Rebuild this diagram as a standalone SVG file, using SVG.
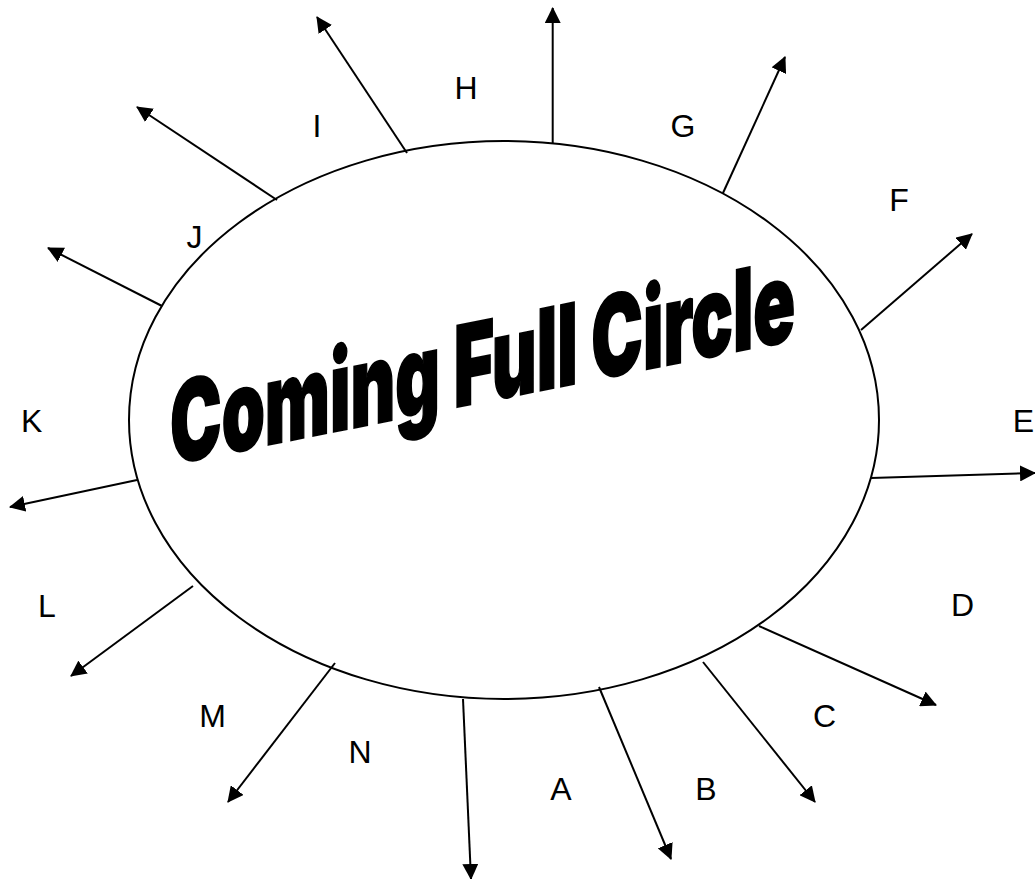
<svg xmlns="http://www.w3.org/2000/svg" width="1035" height="879" viewBox="0 0 1035 879">
<defs>
<style>
.lbl{font-family:"Liberation Sans",Arial,sans-serif;font-size:32px;fill:#000;text-anchor:middle}
.arr{stroke:#000;stroke-width:2;fill:none;marker-end:url(#ah)}
.title{font-family:Inter,"Liberation Sans",Arial,sans-serif;font-weight:900;font-size:112px;fill:#000;stroke:#000;stroke-width:2;stroke-linejoin:miter}
</style>
<marker id="ah" markerUnits="userSpaceOnUse" markerWidth="16" markerHeight="16" viewBox="0 0 16 16" refX="15" refY="8" orient="auto">
<path d="M0,0 L16,8 L0,16 z" fill="#000"/>
</marker>
</defs>
<rect width="1035" height="879" fill="#fff"/>
<g id="circle">
<ellipse cx="504" cy="420" rx="375" ry="279" fill="#fff" stroke="#000" stroke-width="2"/>
<g transform="translate(170,464.5) skewY(-11.3) scale(0.617,1)">
<text class="title" x="0" y="0">Coming Full Circle</text>
</g>
</g>
<g id="connectors">
<line class="arr" x1="552.7" y1="143" x2="552.7" y2="8"/>
<line class="arr" x1="723" y1="193" x2="785" y2="57"/>
<line class="arr" x1="861" y1="330" x2="972" y2="234"/>
<line class="arr" x1="871" y1="478" x2="1035" y2="473"/>
<line class="arr" x1="759" y1="626" x2="936" y2="705"/>
<line class="arr" x1="703" y1="662" x2="815" y2="802"/>
<line class="arr" x1="599" y1="687" x2="671" y2="859"/>
<line class="arr" x1="463" y1="699" x2="471" y2="879"/>
<line class="arr" x1="335" y1="663" x2="228" y2="802"/>
<line class="arr" x1="193" y1="586" x2="71" y2="676"/>
<line class="arr" x1="137" y1="480" x2="10" y2="507"/>
<line class="arr" x1="162" y1="306" x2="48" y2="248"/>
<line class="arr" x1="277" y1="200" x2="137" y2="107"/>
<line class="arr" x1="407" y1="153" x2="317" y2="17"/>
</g>
<g id="labels">
<text id="lA" class="lbl" x="561" y="800">A</text>
<text id="lB" class="lbl" x="706" y="800">B</text>
<text id="lC" class="lbl" x="824.5" y="727">C</text>
<text id="lD" class="lbl" x="962.5" y="616">D</text>
<text id="lE" class="lbl" x="1023.5" y="432">E</text>
<text id="lF" class="lbl" x="899" y="211">F</text>
<text id="lG" class="lbl" x="683" y="137">G</text>
<text id="lH" class="lbl" x="466" y="99">H</text>
<text id="lI" class="lbl" x="317" y="137">I</text>
<text id="lJ" class="lbl" x="194.5" y="248">J</text>
<text id="lK" class="lbl" x="31.7" y="432">K</text>
<text id="lL" class="lbl" x="47" y="617">L</text>
<text id="lM" class="lbl" x="212.5" y="727">M</text>
<text id="lN" class="lbl" x="360" y="763">N</text>
</g>
</svg>
